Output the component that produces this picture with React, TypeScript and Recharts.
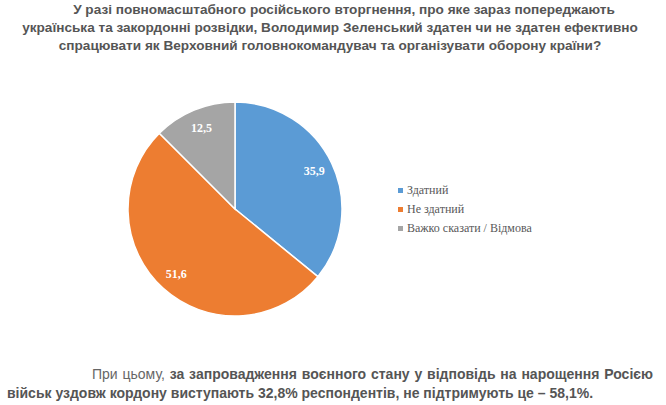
import { PieChart, Pie, Cell, Legend } from "recharts";

const categories = ["Здатний", "Не здатний", "Важко сказати / Відмова"];
const shares = [35.9, 51.6, 12.5];
const colors = ["#5B9BD5", "#ED7D31", "#A5A5A5"];

const titleLines = [
  "У разі повномасштабного російського вторгнення, про яке зараз попереджають",
  "українська та закордонні розвідки, Володимир Зеленський здатен чи не здатен ефективно",
  "спрацювати як Верховний головнокомандувач та організувати оборону країни?",
];

const data = categories.map((name, i) => ({ name, value: shares[i] }));

const RAD = Math.PI / 180;
const serif = "'Times New Roman', 'Liberation Serif', serif";

function SliceLabel(props: any) {
  const { cx, cy, midAngle, outerRadius, value } = props;
  const r = outerRadius * 0.82;
  const x = cx + r * Math.cos(-midAngle * RAD);
  const y = cy + r * Math.sin(-midAngle * RAD);
  return (
    <text
      x={x}
      y={y}
      fill="#fff"
      textAnchor="middle"
      dominantBaseline="central"
      style={{ fontFamily: serif, fontWeight: "bold", fontSize: 12 }}
    >
      {String(value).replace(".", ",")}
    </text>
  );
}

function LegendList() {
  return (
    <div style={{ fontFamily: serif, fontSize: 12, color: "#595959" }}>
      {categories.map((c, i) => (
        <div key={c} style={{ display: "flex", alignItems: "center", height: 19 }}>
          <span
            style={{ width: 5, height: 5, background: colors[i], marginRight: 4, display: "inline-block" }}
          />
          {c}
        </div>
      ))}
    </div>
  );
}

export default function App() {
  const sans = "'Liberation Sans', Arial, sans-serif";
  return (
    <div style={{ position: "absolute", left: 0, top: 0, width: 666, height: 405, background: "#fff" }}>
      {titleLines.map((line, i) => (
        <div
          key={i}
          style={{
            position: "absolute",
            top: 1 + i * 18,
            left: i === 0 ? 14 : 0,
            width: 660,
            textAlign: "center",
            fontFamily: sans,
            fontWeight: "bold",
            fontSize: 13.6,
            lineHeight: "18px",
            color: "#555",
            whiteSpace: "nowrap",
          }}
        >
          {line}
        </div>
      ))}
      <div style={{ position: "absolute", left: 0, top: 0 }}>
        <PieChart width={666} height={405} margin={{ top: 0, right: 0, bottom: 0, left: 0 }}>
          <Pie
            data={data}
            dataKey="value"
            nameKey="name"
            cx={235}
            cy={209}
            outerRadius={107}
            startAngle={90}
            endAngle={-270}
            stroke="#fff"
            strokeWidth={1.5}
            label={SliceLabel}
            labelLine={false}
            isAnimationActive={false}
          >
            {data.map((d, i) => (
              <Cell key={d.name} fill={colors[i]} />
            ))}
          </Pie>
          <Legend
            layout="vertical"
            content={<LegendList />}
            wrapperStyle={{ left: 398, top: 181, width: 200 }}
          />
        </PieChart>
      </div>
      <div
        style={{
          position: "absolute",
          top: 365,
          left: 92,
          width: 561,
          fontFamily: sans,
          fontSize: 14,
          lineHeight: "19px",
          color: "#555",
          textAlign: "justify",
          textAlignLast: "justify",
          whiteSpace: "nowrap",
        }}
      >
        <span style={{ fontWeight: "normal", color: "#666" }}>При цьому, </span>
        <b>за запровадження воєнного стану у відповідь на нарощення Росією</b>
      </div>
      <div
        style={{
          position: "absolute",
          top: 384,
          left: 7,
          fontFamily: sans,
          fontSize: 14,
          fontWeight: "bold",
          lineHeight: "19px",
          color: "#555",
          whiteSpace: "nowrap",
        }}
      >
        військ уздовж кордону виступають 32,8% респондентів, не підтримують це – 58,1%.
      </div>
    </div>
  );
}
